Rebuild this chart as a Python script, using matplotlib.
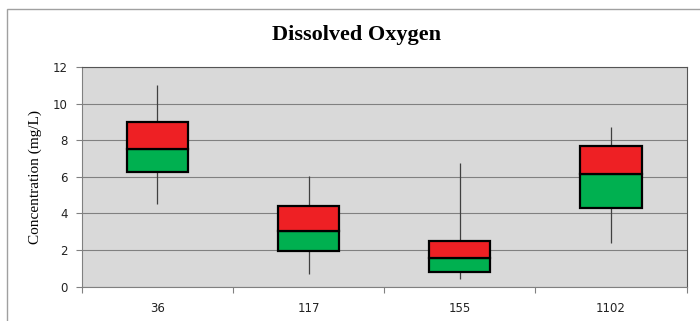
import matplotlib
matplotlib.use("Agg")
import matplotlib.pyplot as plt
from matplotlib.patches import Rectangle
import numpy as np

sites = ["36", "117", "155", "1102"]
whisker_low = [4.5, 0.7, 0.4, 2.4]
q1 = [6.25, 1.97, 0.8, 4.3]
median = [7.5, 3.05, 1.58, 6.14]
q3 = [9.0, 4.4, 2.5, 7.7]
whisker_high = [11.0, 6.05, 6.75, 8.75]
yticks = [0, 2, 4, 6, 8, 10, 12]

fig = plt.figure(figsize=(7.0, 3.21), dpi=100)
fig.patches.append(Rectangle((7 / 700, -0.1), 1.2, 1 - 9 / 321 + 0.1, transform=fig.transFigure,
                             fill=False, edgecolor="#a0a0a0", linewidth=1.0))
ax = fig.add_axes([81.7 / 700, 1 - 286.7 / 321, (686.7 - 81.7) / 700, (286.7 - 67) / 321])
ax.set_facecolor("#D9D9D9")

x = np.arange(len(sites))
w = 0.405
ax.vlines(x, whisker_low, whisker_high, color="#404040", linewidth=0.9, zorder=2)
ax.bar(x, np.array(median) - np.array(q1), bottom=q1, width=w, color="#00B050",
       edgecolor="black", linewidth=1.6, zorder=3)
ax.bar(x, np.array(q3) - np.array(median), bottom=median, width=w, color="#EE2024",
       edgecolor="black", linewidth=1.6, zorder=3)

ax.set_xlim(-0.5, len(sites) - 0.5)
ax.set_ylim(0, 12)
ax.set_yticks(yticks)
ax.set_yticklabels([str(v) for v in yticks], fontsize=8.5, family="DejaVu Sans", color="#222222")
ax.yaxis.grid(True, color="#808080", linewidth=0.8)
ax.set_axisbelow(True)

ax.set_xticks(np.arange(len(sites) + 1) - 0.5)
ax.set_xticklabels([])
ax.set_xticks(x, minor=True)
ax.set_xticklabels(sites, minor=True, fontsize=8.5, family="DejaVu Sans", color="#222222")
ax.tick_params(axis="x", which="minor", length=0, pad=11)
ax.tick_params(axis="x", which="major", length=4, color="#808080", width=0.8)
ax.tick_params(axis="y", length=4, color="#808080", width=0.8, pad=6)

for s in ["left", "bottom"]:
    ax.spines[s].set_color("#808080")
    ax.spines[s].set_linewidth(0.8)
for s in ["top", "right"]:
    ax.spines[s].set_color("#555555")
    ax.spines[s].set_linewidth(0.8)

ax.set_ylabel("Concentration (mg/L)", family="Liberation Serif", fontsize=11, labelpad=8)
fig.text(357 / 700, 1 - 35 / 321, "Dissolved Oxygen", family="Liberation Serif", fontweight="bold",
         fontsize=16, ha="center", va="center")

fig.savefig("out.png", dpi=100)
